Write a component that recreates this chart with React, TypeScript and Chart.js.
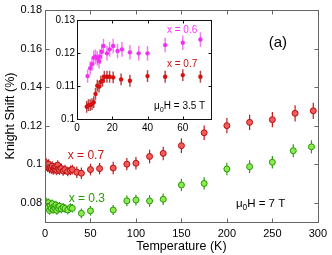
import React, { useEffect, useRef } from "react";
import { Chart, registerables } from "chart.js";
Chart.register(...registerables);

const FONT = "'Liberation Sans', Arial, Helvetica, sans-serif";

// ---- Main panel data (mu0H = 7 T) ----
const redT = [1, 2, 3, 4, 5, 6, 7, 8, 9, 10, 11, 12, 13, 14, 15, 16, 18, 20, 22, 25, 28, 30, 35, 40, 50, 60, 75, 90, 100, 115, 130, 150, 175, 200, 225, 250, 275, 295];
const redShift = [0.1008, 0.099, 0.0985, 0.1, 0.0978, 0.0983, 0.0975, 0.099, 0.097, 0.098, 0.0973, 0.0985, 0.0968, 0.0995, 0.0975, 0.097, 0.0978, 0.0965, 0.0972, 0.0962, 0.0968, 0.0972, 0.0958, 0.0953, 0.0972, 0.0977, 0.098, 0.1, 0.1005, 0.104, 0.1056, 0.1096, 0.1163, 0.12, 0.1217, 0.1231, 0.1264, 0.1277];
const redErr = [0.0025, 0.0025, 0.0025, 0.0025, 0.0025, 0.0025, 0.0025, 0.0025, 0.0025, 0.0025, 0.0025, 0.0025, 0.0025, 0.0025, 0.0025, 0.0025, 0.0025, 0.0025, 0.0025, 0.0025, 0.0025, 0.0025, 0.003, 0.003, 0.003, 0.003, 0.0032, 0.0032, 0.0032, 0.0035, 0.0035, 0.0038, 0.0038, 0.004, 0.004, 0.004, 0.0042, 0.0042];

const greenT = [1, 2, 3, 4, 5, 6, 7, 8, 9, 10, 11, 12, 13, 14, 15, 16, 18, 20, 22, 25, 28, 30, 40, 50, 75, 90, 100, 115, 130, 150, 175, 200, 225, 250, 273, 293];
const greenShift = [0.0805, 0.079, 0.0775, 0.08, 0.076, 0.0785, 0.077, 0.0795, 0.0765, 0.078, 0.0772, 0.0788, 0.076, 0.0778, 0.077, 0.0782, 0.0768, 0.0776, 0.077, 0.0762, 0.0775, 0.0771, 0.0745, 0.0758, 0.0762, 0.081, 0.0814, 0.0809, 0.0818, 0.0892, 0.09, 0.0975, 0.0987, 0.101, 0.107, 0.109];
const greenErr = [0.0022, 0.0022, 0.0022, 0.0022, 0.0022, 0.0022, 0.0022, 0.0022, 0.0022, 0.0022, 0.0022, 0.0022, 0.0022, 0.0022, 0.0022, 0.0022, 0.0022, 0.0022, 0.0022, 0.0022, 0.0022, 0.0022, 0.0025, 0.0025, 0.0026, 0.0028, 0.0028, 0.003, 0.003, 0.0032, 0.0032, 0.0033, 0.0033, 0.0033, 0.0034, 0.0034];

const mainXTicks = [0, 50, 100, 150, 200, 250, 300];
const mainXTickLabels = ["0", "50", "100", "150", "200", "250", "300"];
const mainYTicks = [0.08, 0.1, 0.12, 0.14, 0.16, 0.18];
const mainYTickLabels = ["0.08", "0.1", "0.12", "0.14", "0.16", "0.18"];

// ---- Inset data (mu0H = 3.5 T) ----
const magT = [6, 7.5, 8.5, 9.5, 10.5, 11.5, 12.5, 13, 14, 15, 17, 18.5, 20.5, 23, 25.5, 30, 35, 40, 50, 60, 70];
const magShift = [0.113, 0.1154, 0.1166, 0.1186, 0.1189, 0.1184, 0.1175, 0.1189, 0.1204, 0.1221, 0.1199, 0.1211, 0.1221, 0.1206, 0.1211, 0.1202, 0.1199, 0.1199, 0.1224, 0.1231, 0.1241];
const magErr = [0.002, 0.002, 0.002, 0.0022, 0.0022, 0.0022, 0.0022, 0.0022, 0.0022, 0.0022, 0.0022, 0.0022, 0.0022, 0.0022, 0.0022, 0.0022, 0.0022, 0.0022, 0.0022, 0.0022, 0.0022];

const dredT = [5.5, 6.5, 7.5, 8.5, 9.5, 10.5, 11.5, 12.5, 13.5, 14.5, 15.5, 17, 18.5, 20.5, 25, 30, 40, 50, 60, 70];
const dredShift = [0.1037, 0.1042, 0.1042, 0.1045, 0.1051, 0.1076, 0.1101, 0.1098, 0.1113, 0.1116, 0.1128, 0.1128, 0.1128, 0.1126, 0.112, 0.1116, 0.113, 0.1128, 0.1133, 0.1128];
const dredErr = [0.0018, 0.0018, 0.0018, 0.0018, 0.0018, 0.0018, 0.0018, 0.0018, 0.0018, 0.0018, 0.0018, 0.0018, 0.0018, 0.0018, 0.0018, 0.0018, 0.0018, 0.0018, 0.0018, 0.0018];

const insetXTicks = [0, 20, 40, 60];
const insetXTickLabels = ["0", "20", "40", "60"];
const insetYTicks = [0.1, 0.11, 0.12, 0.13];
const insetYTickLabels = ["0.1", "0.11", "0.12", "0.13"];

type ErrSet = { errors: number[]; color: string; width: number };
type Label = { x: number; y: number; parts: { t: string; sub?: boolean }[]; color: string; size: number; align?: CanvasTextAlign };

function pts(xs: number[], ys: number[]) {
  return xs.map((x, i) => ({ x, y: ys[i] }));
}

function errorPlugin(sets: ErrSet[]) {
  return {
    id: "errorBars",
    beforeDatasetsDraw(chart: any) {
      const ctx = chart.ctx;
      const xs = chart.scales.x;
      const ys = chart.scales.y;
      chart.data.datasets.forEach((ds: any, i: number) => {
        const s = sets[i];
        if (!s) return;
        ctx.save();
        ctx.strokeStyle = s.color;
        ctx.lineWidth = s.width;
        ds.data.forEach((p: any, j: number) => {
          const x = xs.getPixelForValue(p.x);
          ctx.beginPath();
          ctx.moveTo(x, ys.getPixelForValue(p.y - s.errors[j]));
          ctx.lineTo(x, ys.getPixelForValue(p.y + s.errors[j]));
          ctx.stroke();
        });
        ctx.restore();
      });
    },
  };
}

function framePlugin(color: string, tickLen: number, fill: boolean) {
  return {
    id: "frame",
    beforeDraw(chart: any) {
      if (!fill) return;
      const { left, top, right, bottom } = chart.chartArea;
      const ctx = chart.ctx;
      ctx.save();
      ctx.fillStyle = "#fff";
      ctx.fillRect(left, top, right - left, bottom - top);
      ctx.restore();
    },
    afterDraw(chart: any) {
      const { left, top, right, bottom } = chart.chartArea;
      const ctx = chart.ctx;
      const l = Math.round(left) + 0.5;
      const r = Math.round(right) + 0.5;
      const t = Math.round(top) + 0.5;
      const b = Math.round(bottom) + 0.5;
      ctx.save();
      ctx.strokeStyle = color;
      ctx.lineWidth = 1;
      ctx.strokeRect(l, t, r - l, b - t);
      ctx.beginPath();
      chart.scales.x.ticks.forEach((tk: any) => {
        const x = Math.round(chart.scales.x.getPixelForValue(tk.value)) + 0.5;
        ctx.moveTo(x, b);
        ctx.lineTo(x, b - tickLen);
        ctx.moveTo(x, t);
        ctx.lineTo(x, t + tickLen);
      });
      chart.scales.y.ticks.forEach((tk: any) => {
        const y = Math.round(chart.scales.y.getPixelForValue(tk.value)) + 0.5;
        ctx.moveTo(l, y);
        ctx.lineTo(l + tickLen, y);
        ctx.moveTo(r, y);
        ctx.lineTo(r - tickLen, y);
      });
      ctx.stroke();
      ctx.restore();
    },
  };
}

function textPlugin(labels: Label[]) {
  return {
    id: "texts",
    afterDraw(chart: any) {
      const ctx = chart.ctx;
      ctx.save();
      labels.forEach((lb) => {
        let x = chart.scales.x.getPixelForValue(lb.x);
        const y = chart.scales.y.getPixelForValue(lb.y);
        ctx.fillStyle = lb.color;
        ctx.textBaseline = "middle";
        ctx.textAlign = "left";
        let total = 0;
        lb.parts.forEach((p) => {
          ctx.font = `${p.sub ? lb.size * 0.72 : lb.size}px ${FONT}`;
          total += ctx.measureText(p.t).width;
        });
        if (lb.align === "center") x -= total / 2;
        lb.parts.forEach((p) => {
          const sz = p.sub ? lb.size * 0.72 : lb.size;
          ctx.font = `${sz}px ${FONT}`;
          ctx.fillText(p.t, x, p.sub ? y + lb.size * 0.35 : y);
          x += ctx.measureText(p.t).width;
        });
      });
      ctx.restore();
    },
  };
}

function axis(
  min: number,
  max: number,
  ticks: number[],
  tickLabels: string[],
  fontSize: number,
  pad: number,
  size: number,
  horizontal: boolean,
  title?: { text: string; size: number; padding: any }
) {
  return {
    type: "linear",
    min,
    max,
    grid: { display: false, drawTicks: false },
    border: { display: false },
    afterBuildTicks: (s: any) => {
      s.ticks = ticks.map((v) => ({ value: v }));
    },
    afterFit: (s: any) => {
      if (horizontal) s.height = size;
      else s.width = size;
    },
    ticks: {
      autoSkip: false,
      maxRotation: 0,
      padding: pad,
      color: "#000",
      font: { size: fontSize, family: FONT },
      callback: (_v: any, i: number) => tickLabels[i],
    },
    title: title
      ? { display: true, text: title.text, color: "#000", font: { size: title.size, family: FONT }, padding: title.padding }
      : { display: false },
  };
}

export default function App() {
  const mainRef = useRef<HTMLCanvasElement>(null);
  const insetRef = useRef<HTMLCanvasElement>(null);

  useEffect(() => {
    const main = new Chart(mainRef.current as HTMLCanvasElement, {
      type: "scatter",
      data: {
        datasets: [
          {
            data: pts(redT, redShift),
            pointRadius: 3,
            borderWidth: 1,
            backgroundColor: "#f25b5b",
            borderColor: "#b51010",
          },
          {
            data: pts(greenT, greenShift),
            pointRadius: 3,
            borderWidth: 1,
            backgroundColor: "#8ee850",
            borderColor: "#259a05",
          },
        ],
      },
      options: {
        animation: false,
        responsive: false,
        events: [],
        layout: { padding: { top: 10, right: 13, left: 0, bottom: 0 } },
        plugins: { legend: { display: false }, tooltip: { enabled: false } },
        scales: {
          x: axis(0, 300, mainXTicks, mainXTickLabels, 11, 5, 33, true, {
            text: "Temperature (K)",
            size: 12.5,
            padding: { top: 0, bottom: 1 },
          }),
          y: axis(0.07, 0.18, mainYTicks, mainYTickLabels, 11, 3, 45, false, {
            text: "Knight Shift (%)",
            size: 12.5,
            padding: { top: 3, bottom: 0 },
          }),
        } as any,
      },
      plugins: [
        framePlugin("#666", 4, false),
        errorPlugin([
          { errors: redErr, color: "#c01818", width: 1.2 },
          { errors: greenErr, color: "#2a9a10", width: 1.2 },
        ]),
        textPlugin([
          { x: 256, y: 0.163, parts: [{ t: "(a)" }], color: "#000", size: 15, align: "center" },
          { x: 25, y: 0.1045, parts: [{ t: "x = 0.7" }], color: "#cc1414", size: 12 },
          { x: 26, y: 0.0822, parts: [{ t: "x = 0.3" }], color: "#22a000", size: 12 },
          { x: 210, y: 0.0796, parts: [{ t: "\u03bc" }, { t: "0", sub: true }, { t: "H = 7 T" }], color: "#000", size: 11.5 },
        ]),
      ] as any,
    } as any);

    const inset = new Chart(insetRef.current as HTMLCanvasElement, {
      type: "scatter",
      data: {
        datasets: [
          {
            data: pts(magT, magShift),
            pointRadius: 2.2,
            borderWidth: 0,
            backgroundColor: "#f032f0",
          },
          {
            data: pts(dredT, dredShift),
            pointRadius: 2.2,
            borderWidth: 0,
            backgroundColor: "#d81010",
          },
        ],
      },
      options: {
        animation: false,
        responsive: false,
        events: [],
        layout: { padding: { top: 8, right: 9, left: 0, bottom: 0 } },
        plugins: { legend: { display: false }, tooltip: { enabled: false } },
        scales: {
          x: axis(0, 76, insetXTicks, insetXTickLabels, 10, 3, 18, true),
          y: axis(0.1, 0.13, insetYTicks, insetYTickLabels, 10, 2, 27, false),
        } as any,
      },
      plugins: [
        framePlugin("#111", 3, true),
        errorPlugin([
          { errors: magErr, color: "rgba(240,80,240,0.75)", width: 1.5 },
          { errors: dredErr, color: "rgba(160,30,30,0.8)", width: 1.5 },
        ]),
        textPlugin([
          { x: 51, y: 0.127, parts: [{ t: "x = 0.6" }], color: "#ff33ff", size: 10 },
          { x: 51, y: 0.1167, parts: [{ t: "x = 0.7" }], color: "#c41414", size: 10 },
          { x: 43.7, y: 0.1039, parts: [{ t: "\u03bc" }, { t: "0", sub: true }, { t: "H = 3.5 T" }], color: "#000", size: 10 },
        ]),
      ] as any,
    } as any);

    return () => {
      main.destroy();
      inset.destroy();
    };
  }, []);

  return (
    <div style={{ position: "absolute", left: 0, top: 0, width: 332, height: 255, background: "#fff" }}>
      <canvas ref={mainRef} width={332} height={255} style={{ position: "absolute", left: 0, top: 0, width: 332, height: 255 }} />
      <canvas ref={insetRef} width={170} height={125} style={{ position: "absolute", left: 50, top: 12, width: 170, height: 125 }} />
    </div>
  );
}
